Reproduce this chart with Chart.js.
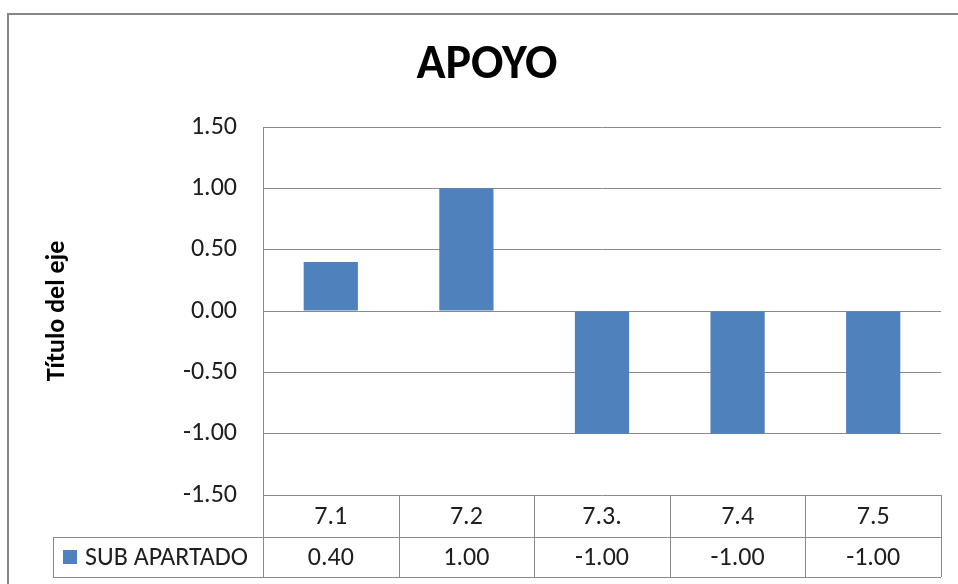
<!DOCTYPE html>
<html>
<head>
<meta charset="utf-8">
<script src="https://cdn.jsdelivr.net/npm/chart.js@4/dist/chart.umd.min.js"></script>
<style>
  html, body { margin: 0; padding: 0; background: #ffffff; }
  #wrap { width: 958px; height: 584px; }
</style>
</head>
<body>
<div id="wrap"><canvas id="c" width="958" height="584"></canvas></div>
<script>
// Data
const categories = ['7.1', '7.2', '7.3.', '7.4', '7.5'];
const seriesName = 'SUB APARTADO';
const seriesValues = [0.40, 1.00, -1.00, -1.00, -1.00];
const yTicks = [-1.5, -1.0, -0.5, 0, 0.5, 1.0, 1.5];

const FONT = "Carlito, 'Liberation Sans', Arial, sans-serif";
const GRID = '#8a8a8a';
const BAR = '#4F81BD';
const TEXT = '#1e1e1e';
const LEFT_PAD = 16;

// White background and outer frame around the whole chart
const framePlugin = {
  id: 'frame',
  beforeDraw(chart) {
    const ctx = chart.ctx;
    ctx.save();
    ctx.fillStyle = '#ffffff';
    ctx.fillRect(0, 0, chart.width, chart.height);
    ctx.strokeStyle = '#878787';
    ctx.lineWidth = 2;
    ctx.strokeRect(8, 14, chart.width + 40, chart.height + 40);
    ctx.restore();
  }
};

// Data table under the plot: category row plus the series row with legend key
const dataTablePlugin = {
  id: 'dataTable',
  afterDraw(chart) {
    const ctx = chart.ctx;
    const x = chart.scales.x;
    const area = chart.chartArea;
    const n = categories.length;
    const top = Math.round(area.bottom);
    const row1 = top + 42;
    const row2 = row1 + 40;
    const legendLeft = 53;
    const colW = (area.right - area.left) / n;
    const px = v => Math.round(v) + 0.5;

    ctx.save();
    ctx.strokeStyle = GRID;
    ctx.lineWidth = 1;
    ctx.beginPath();
    // vertical column separators
    for (let i = 0; i <= n; i++) {
      const xx = px(area.left + i * colW);
      ctx.moveTo(xx, top);
      ctx.lineTo(xx, row2);
    }
    // horizontal row lines
    ctx.moveTo(legendLeft, px(row1));
    ctx.lineTo(area.right, px(row1));
    ctx.moveTo(legendLeft, px(row2));
    ctx.lineTo(area.right, px(row2));
    // legend cell left edge
    ctx.moveTo(px(legendLeft), px(row1));
    ctx.lineTo(px(legendLeft), px(row2));
    ctx.stroke();

    ctx.fillStyle = TEXT;
    ctx.font = '26px ' + FONT;
    ctx.textAlign = 'center';
    ctx.textBaseline = 'middle';
    categories.forEach((c, i) => {
      const cx = x.getPixelForValue(i);
      ctx.fillText(c, cx, (top + row1) / 2 + 1);
      ctx.fillText(seriesValues[i].toFixed(2), cx, (row1 + row2) / 2 + 1);
    });

    // legend key and series name
    const midY = (row1 + row2) / 2;
    ctx.fillStyle = BAR;
    ctx.fillRect(63, Math.round(midY - 7), 14, 14);
    ctx.fillStyle = TEXT;
    ctx.textAlign = 'left';
    ctx.fillText(seriesName, 85, midY + 1);
    ctx.restore();
  }
};

new Chart(document.getElementById('c'), {
  type: 'bar',
  data: {
    labels: categories,
    datasets: [{
      label: seriesName,
      data: seriesValues,
      backgroundColor: BAR,
      borderWidth: 0,
      barPercentage: 0.4,
      categoryPercentage: 1.0
    }]
  },
  options: {
    responsive: false,
    animation: false,
    layout: { padding: { left: LEFT_PAD, right: 0, top: 0, bottom: 89 } },
    plugins: {
      legend: { display: false },
      tooltip: { enabled: false },
      title: {
        display: true,
        text: 'APOYO',
        color: '#000000',
        font: { family: FONT, size: 48, weight: 'bold', lineHeight: 1 },
        padding: { top: 42, bottom: 37 }
      }
    },
    scales: {
      x: {
        display: false,
        offset: true
      },
      y: {
        min: -1.5,
        max: 1.5,
        afterBuildTicks(scale) {
          scale.ticks = yTicks.map(v => ({ value: v }));
        },
        afterFit(scale) { scale.width = 263 - LEFT_PAD; },
        ticks: {
          color: TEXT,
          padding: 26,
          font: { family: FONT, size: 26 },
          callback: v => Number(v).toFixed(2)
        },
        grid: {
          color: GRID,
          lineWidth: 1,
          drawTicks: false
        },
        border: { display: true, color: GRID, width: 1 },
        title: {
          display: true,
          text: 'Título del eje',
          color: '#000000',
          font: { family: FONT, size: 26, weight: 'bold', lineHeight: 1.2 },
          padding: { top: 42 - LEFT_PAD, bottom: 0 }
        }
      },
      // empty right-hand margin beside the plot
      yRight: {
        position: 'right',
        display: true,
        min: -1.5,
        max: 1.5,
        afterFit(scale) { scale.width = 17; },
        ticks: { display: false },
        grid: { display: false, drawTicks: false },
        border: { display: false }
      }
    }
  },
  plugins: [framePlugin, dataTablePlugin]
});
</script>
</body>
</html>
